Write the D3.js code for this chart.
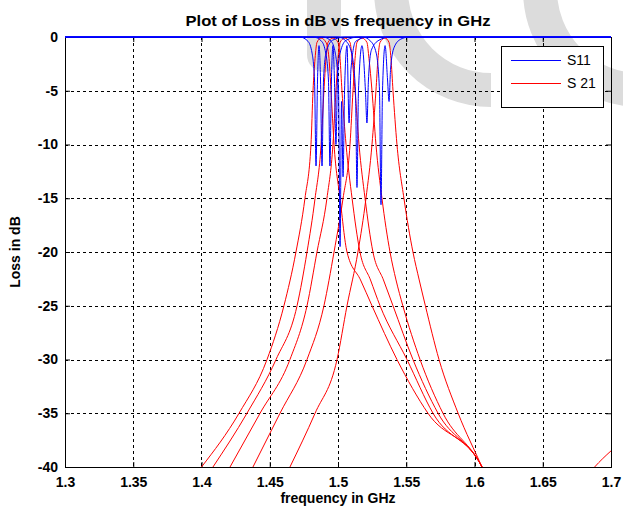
<!DOCTYPE html>
<html>
<head>
<meta charset="utf-8">
<script src="https://cdn.jsdelivr.net/npm/d3@7"></script>
<style>
  body { margin: 0; background: #fff; }
  text { font-family: Arial, "Liberation Sans", sans-serif; }
</style>
</head>
<body>
<div id="chart"></div>
<script>
// tick values
var freqTicks = [1.3, 1.35, 1.4, 1.45, 1.5, 1.55, 1.6, 1.65, 1.7];
var lossTicks = [0, -5, -10, -15, -20, -25, -30, -35, -40];

// S21 curves, one per tuning state: [frequency GHz, loss dB]
var s21StateA = [[1.400,-40],[1.4275,-35],[1.448,-30],[1.4604,-25],[1.4692,-20],[1.4758,-15],[1.4802,-10],[1.4817,-5],[1.4832,-2],[1.4846,-0.5],[1.4876,-0.1],[1.4912,-0.5],[1.4934,-2],[1.4949,-5],[1.4971,-10],[1.5015,-15],[1.5066,-20],[1.5165,-22.6],[1.5249,-25],[1.5432,-30],[1.5659,-35],[1.6055,-40],[1.625,-46]];
var s21StateB = [[1.4084,-40],[1.4333,-35],[1.4546,-30],[1.4700,-25],[1.4773,-20],[1.4832,-15],[1.4876,-10],[1.4897,-5],[1.4912,-2],[1.4927,-0.5],[1.4963,-0.1],[1.5000,-0.5],[1.5015,-2],[1.5029,-5],[1.5059,-10],[1.5103,-15],[1.5161,-20],[1.5238,-22.6],[1.5308,-25],[1.5505,-30],[1.5696,-35],[1.6055,-40],[1.625,-46]];
var s21StateC = [[1.4209,-40],[1.4429,-35],[1.4648,-30],[1.4773,-25],[1.4846,-20],[1.4919,-15],[1.4963,-10],[1.4985,-5],[1.5000,-2],[1.5015,-0.5],[1.5051,-0.1],[1.5088,-0.5],[1.5103,-2],[1.5125,-5],[1.5154,-10],[1.5198,-15],[1.5256,-20],[1.5333,-22.6],[1.5403,-25],[1.5549,-30],[1.5733,-35],[1.6055,-40],[1.625,-46]];
var s21StateD = [[1.4377,-40],[1.4575,-35],[1.4773,-30],[1.4897,-25],[1.4971,-20],[1.5037,-15],[1.5088,-10],[1.5110,-5],[1.5125,-2],[1.5139,-0.5],[1.5176,-0.1],[1.5212,-0.5],[1.5227,-2],[1.5249,-5],[1.5278,-10],[1.5322,-15],[1.5381,-20],[1.5425,-22.6],[1.5475,-25],[1.5601,-30],[1.5769,-35],[1.6055,-40],[1.625,-46]];
var s21StateE = [[1.4648,-40],[1.4832,-35],[1.4993,-30],[1.5066,-25],[1.5146,-20],[1.5205,-15],[1.5249,-10],[1.5278,-5],[1.5293,-2],[1.5308,-0.5],[1.5344,-0.1],[1.5374,-0.5],[1.5388,-2],[1.5403,-5],[1.5432,-10],[1.5483,-15],[1.5549,-20],[1.5595,-22.6],[1.5640,-25],[1.5740,-30],[1.5880,-35],[1.6055,-40],[1.640,-50],[1.688,-40],[1.700,-38.5]];

// S11 curves, one per tuning state
var s11StateA = [[1.30,0],[1.472,0],[1.478,-0.4],[1.481,-1.5],[1.4828,-4],[1.4839,-12],[1.4850,-4],[1.4861,-0.8],[1.4872,-4],[1.4883,-12],[1.4894,-4],[1.4912,-1.5],[1.496,-0.3],[1.505,0],[1.70,0]];
var s11StateB = [[1.30,0],[1.482,0],[1.488,-0.4],[1.491,-1.5],[1.493,-4],[1.4941,-12],[1.4952,-4],[1.4963,-0.8],[1.4974,-4],[1.4985,-10],[1.4996,-4],[1.5015,-1.5],[1.506,-0.3],[1.515,0],[1.70,0]];
var s11StateC = [[1.30,0],[1.489,0],[1.495,-0.4],[1.498,-1.5],[1.5004,-5],[1.5015,-19.5],[1.5026,-6],[1.5037,-13],[1.5048,-5],[1.5066,-0.8],[1.5081,-8],[1.5095,-3],[1.513,-0.4],[1.522,0],[1.70,0]];
var s11StateD = [[1.30,0],[1.500,0],[1.506,-0.4],[1.510,-1.5],[1.5128,-5],[1.5139,-14],[1.5150,-5],[1.5176,-0.8],[1.5201,-5],[1.5212,-8],[1.5223,-4],[1.5245,-1.2],[1.530,-0.3],[1.538,0],[1.70,0]];
var s11StateE = [[1.30,0],[1.518,0],[1.524,-0.4],[1.528,-1.5],[1.5304,-5],[1.5315,-15.6],[1.5326,-5],[1.5345,-0.8],[1.5363,-4],[1.5374,-6],[1.5385,-3],[1.5410,-1],[1.546,-0.2],[1.552,0],[1.70,0]];

var s21Curves = [s21StateA, s21StateB, s21StateC, s21StateD, s21StateE];
var s11Curves = [s11StateA, s11StateB, s11StateC, s11StateD, s11StateE];
var legendLabels = ["S11", "S 21"];
var seriesColors = ["#0000ff", "#ff0000"];

var W = 623, H = 513;
var margin = { top: 37, right: 12, bottom: 46, left: 65 };
var width = W - margin.left - margin.right,
    height = H - margin.top - margin.bottom;

var root = d3.select("#chart")
    .append("svg")
    .attr("width", W)
    .attr("height", H);

// faint watermark behind the plot
var mark = root.append("g")
    .attr("fill", "none")
    .attr("stroke", "#dcdcdc")
    .attr("stroke-width", 34);
mark.append("path").attr("d", "M324,-20 V55").attr("stroke-linecap", "round");
mark.append("path").attr("d", "M391,-10 A100,100 0 0 0 491,90");
mark.append("path").attr("d", "M540,-10 A100,100 0 0 0 640,90");

var svg = root.append("g")
    .attr("transform", "translate(" + margin.left + "," + margin.top + ")");

var xScale = d3.scaleLinear().domain([1.3, 1.7]).range([0, width]);
var yScale = d3.scaleLinear().domain([-40, 0]).range([height, 0]);

// grid
svg.append("g")
    .selectAll("line")
    .data(freqTicks.slice(1, -1))
    .enter().append("line")
    .attr("x1", d => Math.round(xScale(d)) + 0.5)
    .attr("x2", d => Math.round(xScale(d)) + 0.5)
    .attr("y1", 0).attr("y2", height)
    .attr("stroke", "#000").attr("stroke-dasharray", "3,3");
svg.append("g")
    .selectAll("line")
    .data(lossTicks.slice(1, -1))
    .enter().append("line")
    .attr("y1", d => Math.round(yScale(d)) + 0.5)
    .attr("y2", d => Math.round(yScale(d)) + 0.5)
    .attr("x1", 0).attr("x2", width)
    .attr("stroke", "#000").attr("stroke-dasharray", "3,3");

// axes (matlab style: ticks inside, labels outside)
var plainNum = d => String(d);
var xAxis = svg.append("g")
    .attr("transform", "translate(0," + height + ")")
    .call(d3.axisBottom(xScale).tickValues(freqTicks).tickSize(-5).tickPadding(10)
        .tickFormat(plainNum));
var xAxisTop = svg.append("g")
    .call(d3.axisTop(xScale).tickValues(freqTicks).tickSize(-5).tickFormat(""));
var yAxis = svg.append("g")
    .call(d3.axisLeft(yScale).tickValues(lossTicks).tickSize(-5).tickPadding(7)
        .tickFormat(plainNum));
var yAxisRight = svg.append("g")
    .attr("transform", "translate(" + width + ",0)")
    .call(d3.axisRight(yScale).tickValues(lossTicks).tickSize(-5).tickFormat(""));

[xAxis, xAxisTop, yAxis, yAxisRight].forEach(function (a) {
    a.selectAll("path.domain").attr("stroke", "#000");
    a.selectAll(".tick line").attr("stroke", "#000");
    a.selectAll("text")
        .style("font-size", "14px")
        .style("font-weight", "bold")
        .attr("fill", "#000");
});

// curves
svg.append("clipPath").attr("id", "plotclip")
    .append("rect").attr("width", width).attr("height", height + 1).attr("y", -1);

var line = d3.line()
    .x(d => xScale(d[0]))
    .y(d => yScale(d[1]))
    .curve(d3.curveMonotoneX);

var curves = svg.append("g").attr("clip-path", "url(#plotclip)");
curves.selectAll(".s21")
    .data(s21Curves)
    .enter().append("path")
    .attr("class", "s21")
    .attr("d", line)
    .attr("fill", "none")
    .attr("stroke", seriesColors[1])
    .attr("stroke-width", 1);
curves.selectAll(".s11")
    .data(s11Curves)
    .enter().append("path")
    .attr("class", "s11")
    .attr("d", line)
    .attr("fill", "none")
    .attr("stroke", seriesColors[0])
    .attr("stroke-width", 1);

// legend
var legend = svg.append("g").attr("transform", "translate(" + (501 - margin.left) + "," + (46 - margin.top) + ")");
legend.append("rect")
    .attr("x", 0.5).attr("y", 0.5)
    .attr("width", 102).attr("height", 61)
    .attr("fill", "#fff").attr("stroke", "#000");
legendLabels.forEach(function (label, i) {
    var yy = 14 + i * 23;
    legend.append("line")
        .attr("x1", 10).attr("x2", 60)
        .attr("y1", yy + 0.5).attr("y2", yy + 0.5)
        .style("stroke", seriesColors[i])
        .style("stroke-width", 1.2);
    legend.append("text")
        .attr("x", 66).attr("y", yy + 5)
        .style("font-size", "14px")
        .text(label);
});

// titles
svg.append("text")
    .attr("x", width / 2).attr("y", -11)
    .attr("text-anchor", "middle")
    .attr("textLength", 305).attr("lengthAdjust", "spacingAndGlyphs")
    .style("font-size", "14px").style("font-weight", "bold")
    .text("Plot of Loss in dB vs frequency in GHz");

svg.append("text")
    .attr("x", width / 2).attr("y", height + 36)
    .attr("text-anchor", "middle")
    .style("font-size", "14px").style("font-weight", "bold")
    .text("frequency in GHz");

svg.append("text")
    .attr("transform", "translate(" + (-45) + "," + (height / 2) + ") rotate(-90)")
    .attr("text-anchor", "middle")
    .style("font-size", "14px").style("font-weight", "bold")
    .text("Loss in dB");
</script>
</body>
</html>
